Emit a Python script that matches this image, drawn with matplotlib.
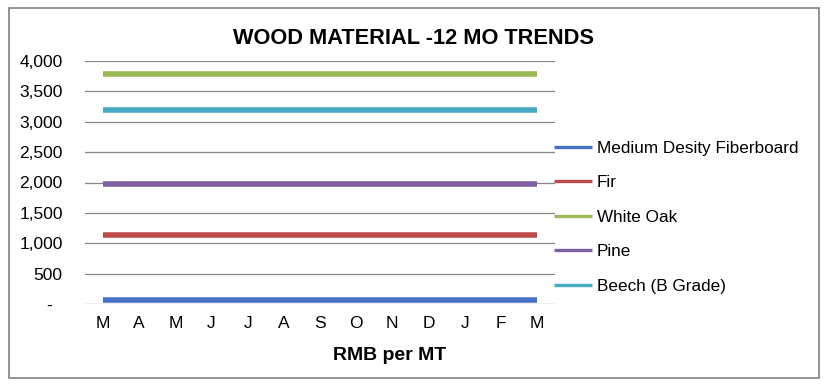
import matplotlib.pyplot as plt
from matplotlib.patches import Rectangle

plt.rcParams['font.family'] = ['Liberation Sans', 'DejaVu Sans']

months = ["M", "A", "M", "J", "J", "A", "S", "O", "N", "D", "J", "F", "M"]
mdf = [70] * 13
fir = [1140] * 13
white_oak = [3780] * 13
pine = [1980] * 13
beech = [3200] * 13

series = [
    ("Medium Desity Fiberboard", mdf, "#4472C4"),
    ("Fir", fir, "#BE4B48"),
    ("White Oak", white_oak, "#98B954"),
    ("Pine", pine, "#7D60A0"),
    ("Beech (B Grade)", beech, "#46AAC5"),
]
yticks = [0, 500, 1000, 1500, 2000, 2500, 3000, 3500, 4000]
ylabels = ["-  ", "500", "1,000", "1,500", "2,000", "2,500", "3,000", "3,500", "4,000"]

W, H = 837, 387
fig = plt.figure(figsize=(W / 100, H / 100), dpi=100)
ax = fig.add_axes([85 / W, 1 - 304 / H, (555 - 85) / W, (304 - 61) / H])

x = list(range(len(months)))
for name, vals, col in series:
    ax.plot(x, vals, color=col, lw=4.0, label=name, solid_capstyle="butt")

ax.set_xlim(-0.5, len(months) - 0.5)
ax.set_ylim(0, 4000)
ax.set_yticks(yticks)
ax.set_yticklabels(ylabels, fontsize=12.5)
ax.set_xticks(x)
ax.set_xticklabels(months, fontsize=12.5)
ax.tick_params(length=0)
ax.tick_params(axis="x", pad=9)
ax.tick_params(axis="y", pad=16)
ax.grid(axis="y", color="#868686", lw=0.9)
ax.set_axisbelow(True)
for s in ax.spines.values():
    s.set_visible(False)

leg = fig.legend(loc="upper left", bbox_to_anchor=(554 / W, 1 - 141 / H),
                 frameon=False, fontsize=12.3, handlelength=2.25, handletextpad=0.25,
                 labelspacing=1.14, borderaxespad=0, borderpad=0)
for h in leg.legend_handles:
    h.set_linewidth(2.4)

fig.text(414 / W, 1 - 39 / H, "WOOD MATERIAL -12 MO TRENDS", fontsize=15.7,
         fontweight="bold", ha="center", va="center")
fig.text(390 / W, 1 - 356 / H, "RMB per MT", fontsize=14, fontweight="bold",
         ha="center", va="center")

fig.patches.append(Rectangle((9 / W, 1 - 378 / H), 810 / W, 370 / H,
                             transform=fig.transFigure, fill=False,
                             edgecolor="#808080", lw=1.2))

fig.savefig("out.png", dpi=100)
